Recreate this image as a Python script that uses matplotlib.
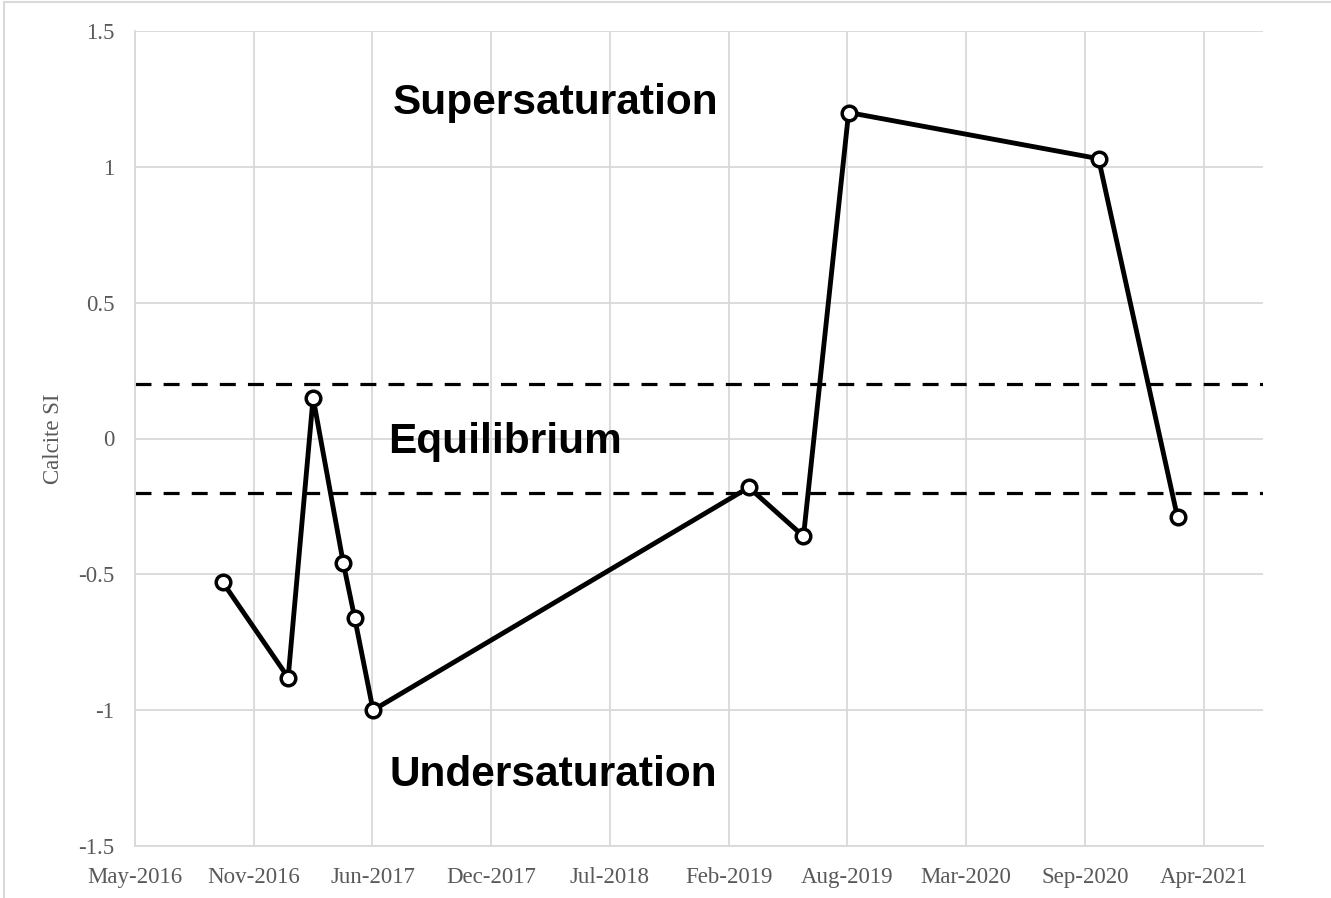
import matplotlib
matplotlib.use("Agg")
import matplotlib.pyplot as plt
import matplotlib.dates as mdates
from matplotlib.patches import Rectangle
from datetime import datetime, timedelta

# sampling dates and calcite saturation index
dates = ["2016-10-03", "2017-01-21", "2017-03-04", "2017-04-24", "2017-05-13",
         "2017-06-13", "2019-03-08", "2019-06-08", "2019-08-23", "2020-10-17",
         "2021-02-27"]
calcite_si = [-0.53, -0.88, 0.15, -0.46, -0.66, -1.00, -0.18, -0.36, 1.20, 1.03, -0.29]

eq_band = [-0.2, 0.2]
y_ticks = [-1.5, -1, -0.5, 0, 0.5, 1, 1.5]
y_tick_labels = ["-1.5", "-1", "-0.5", "0", "0.5", "1", "1.5"]

x = [datetime.strptime(d, "%Y-%m-%d") for d in dates]

# excel style date axis: 200 day major unit
x_start = datetime(2016, 5, 8)
x_ticks = [x_start + timedelta(days=200 * i) for i in range(10)]
x_end = x_start + timedelta(days=1900)

grid_col = "#d9d9d9"
lab_col = "#595959"

fig = plt.figure(figsize=(13.31, 8.98), dpi=100)
ax = fig.add_axes([135 / 1331, 1 - 846 / 898, 1128 / 1331, 815 / 898])

for yb in eq_band:
    ax.axhline(yb, color="black", lw=2.3, dashes=(5.0, 3.8), zorder=2)

ax.plot(x, calcite_si, color="black", lw=3.5, marker="o", ms=10.5,
        mfc="white", mec="black", mew=2.5, zorder=3)

ax.set_xlim(x_start, x_end)
ax.set_ylim(-1.5, 1.5)
ax.set_xticks(x_ticks)
ax.xaxis.set_major_formatter(mdates.DateFormatter("%b-%Y"))
ax.set_yticks(y_ticks)
ax.set_yticklabels(y_tick_labels)

ax.grid(True, color=grid_col, lw=1.3, zorder=0)
ax.set_axisbelow(True)
for s in ["top", "right"]:
    ax.spines[s].set_visible(False)
for s in ["left", "bottom"]:
    ax.spines[s].set_color(grid_col)
    ax.spines[s].set_linewidth(1.3)
ax.tick_params(length=0, labelcolor=lab_col)
ax.tick_params(axis="x", pad=15)
ax.tick_params(axis="y", pad=15)
for lab in ax.get_xticklabels() + ax.get_yticklabels():
    lab.set_fontfamily("Liberation Serif")
    lab.set_fontsize(16.5)

ax.set_ylabel("Calcite SI", family="Liberation Serif", fontsize=16.5, color=lab_col, labelpad=10)

txt = dict(family="Liberation Sans", weight="bold", fontsize=30.5, color="black",
           transform=ax.transAxes, ha="center", va="center")
ax.text(0.373, 0.912, "Supersaturation", **txt)
ax.text(0.328, 0.496, "Equilibrium", **txt)
ax.text(0.371, 0.087, "Undersaturation", **txt)

fig.patches.append(Rectangle((0.003, -0.1), 2, 1.0978, transform=fig.transFigure,
                             fill=False, edgecolor=grid_col, lw=1.5))

fig.savefig("out.png", dpi=100)
